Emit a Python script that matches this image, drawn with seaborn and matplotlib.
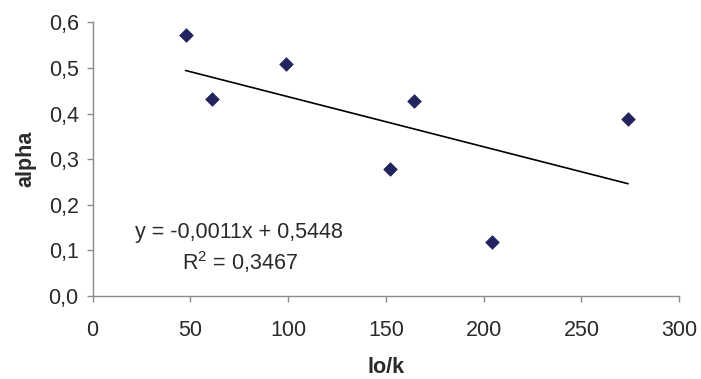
import numpy as np
import pandas as pd
import matplotlib
matplotlib.use("Agg")
import matplotlib.pyplot as plt
import seaborn as sns

lo_k = [47.6, 61.0, 99.1, 152.1, 164.6, 204.0, 273.8]
alpha = [0.573, 0.432, 0.508, 0.278, 0.428, 0.119, 0.389]
x_ticks = [0, 50, 100, 150, 200, 250, 300]
y_ticks = [0.0, 0.1, 0.2, 0.3, 0.4, 0.5, 0.6]
eq_text = "y = -0,0011x + 0,5448"
r2_text = "R$^2$ = 0,3467"

df = pd.DataFrame({"lo/k": lo_k, "alpha": alpha})

sns.set_style("white")
plt.rcParams['font.family'] = ['Liberation Sans', 'DejaVu Sans']
plt.rcParams['mathtext.fontset'] = 'custom'
plt.rcParams['mathtext.rm'] = 'Liberation Sans'

FS = 15.5
fig = plt.figure(figsize=(7.01, 3.79), dpi=100)
ax = fig.add_axes([0.132, 0.219, 0.837, 0.722])

sns.regplot(data=df, x="lo/k", y="alpha", ax=ax, scatter=False, ci=None,
            truncate=True, line_kws=dict(color="black", lw=1.2))
sns.scatterplot(data=df, x="lo/k", y="alpha", ax=ax, marker="D", s=48,
                color="#23235e", edgecolor="#23235e", linewidth=0.5, zorder=3)

ax.set_xlim(0, 300)
ax.set_ylim(0, 0.6)
ax.set_xticks(x_ticks)
ax.set_yticks(y_ticks)
ax.set_xticklabels([str(v) for v in x_ticks])
ax.set_yticklabels([f"{v:.1f}".replace(".", ",") for v in y_ticks])

for s in ["top", "right"]:
    ax.spines[s].set_visible(False)
for s in ["left", "bottom"]:
    ax.spines[s].set_color("#8a8a8a")
    ax.spines[s].set_linewidth(1.0)

ax.tick_params(axis="both", which="major", length=4, width=1, color="#8a8a8a",
               labelsize=FS, labelcolor="#2a2a2a", direction="out",
               left=True, bottom=True)
ax.tick_params(axis="x", pad=13)
ax.tick_params(axis="y", pad=6)

ax.set_xlabel("lo/k", fontsize=FS, fontweight="bold", color="#2a2a2a", labelpad=12)
ax.set_ylabel("alpha", fontsize=FS, fontweight="bold", color="#2a2a2a", labelpad=9)

ax.text(74.9, 0.140, eq_text, ha="center", va="center", fontsize=FS, color="#2a2a2a")
ax.text(75.5, 0.075, r2_text, ha="center", va="center", fontsize=FS, color="#2a2a2a")

fig.savefig("out.png", dpi=100)
